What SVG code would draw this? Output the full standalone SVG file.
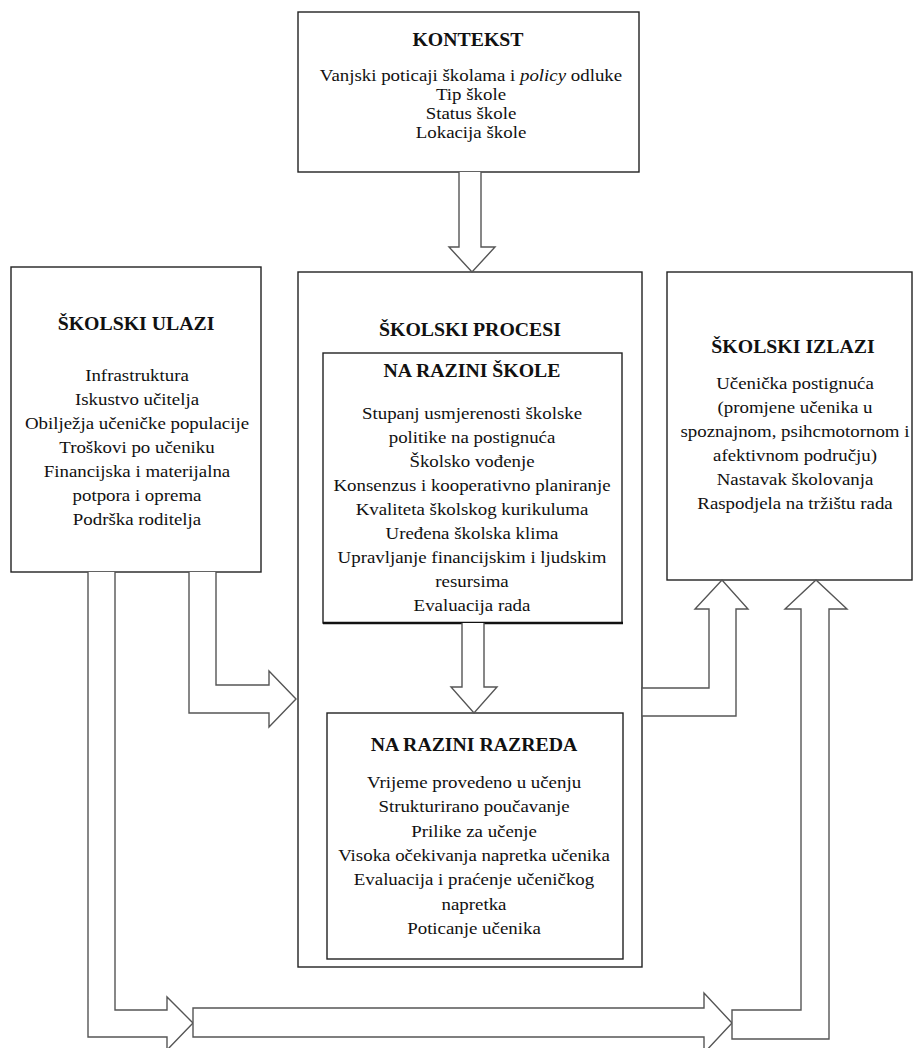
<svg xmlns="http://www.w3.org/2000/svg" width="915" height="1048" viewBox="0 0 915 1048">
<style>
.box{fill:#fff;stroke:#222;stroke-width:1.4}
.arr{fill:#fff;stroke:#555;stroke-width:1.4;stroke-linejoin:miter}
.t{font-family:'Liberation Serif','DejaVu Serif',serif;font-size:18px;font-weight:bold;text-anchor:middle;fill:#111}
.b{font-family:'Liberation Serif','DejaVu Serif',serif;font-size:16px;text-anchor:middle;fill:#111}
</style>
<rect width="915" height="1048" fill="#fff"/>
<g id="kontekst">
<rect class="box" x="298" y="12" width="341" height="160"/>
<text class="t" transform="translate(468,46) scale(1.1,1)">KONTEKST</text>
<g transform="translate(471,0) scale(1.18,1)">
<text class="b" y="81">Vanjski poticaji školama i <tspan font-style="italic">policy</tspan> odluke</text>
<text class="b" y="100">Tip škole</text>
<text class="b" y="119">Status škole</text>
<text class="b" y="138">Lokacija škole</text>
</g>
</g>
<g id="ulazi">
<rect class="box" x="11" y="267" width="250" height="305"/>
<text class="t" transform="translate(136,330) scale(1.1,1)">ŠKOLSKI ULAZI</text>
<g transform="translate(137,0) scale(1.18,1)">
<text class="b" y="381">Infrastruktura</text>
<text class="b" y="405">Iskustvo učitelja</text>
<text class="b" y="429">Obilježja učeničke populacije</text>
<text class="b" y="453">Troškovi po učeniku</text>
<text class="b" y="477">Financijska i materijalna</text>
<text class="b" y="501">potpora i oprema</text>
<text class="b" y="525">Podrška roditelja</text>
</g>
</g>
<g id="procesi">
<rect class="box" x="298" y="272" width="344" height="695"/>
<text class="t" transform="translate(470,336) scale(1.1,1)">ŠKOLSKI PROCESI</text>
</g>
<g id="razina-skole">
<rect class="box" x="323" y="353" width="299" height="270"/>
<line x1="323" y1="623" x2="623" y2="623" stroke="#111" stroke-width="2.4"/>
<text class="t" transform="translate(472,377) scale(1.1,1)">NA RAZINI ŠKOLE</text>
<g transform="translate(472,0) scale(1.18,1)">
<text class="b" y="419">Stupanj usmjerenosti školske</text>
<text class="b" y="443">politike na postignuća</text>
<text class="b" y="467">Školsko vođenje</text>
<text class="b" y="491">Konsenzus i kooperativno planiranje</text>
<text class="b" y="515">Kvaliteta školskog kurikuluma</text>
<text class="b" y="539">Uređena školska klima</text>
<text class="b" y="563">Upravljanje financijskim i ljudskim</text>
<text class="b" y="587">resursima</text>
<text class="b" y="611">Evaluacija rada</text>
</g>
</g>
<g id="razina-razreda">
<rect class="box" x="327" y="713" width="296" height="246"/>
<text class="t" transform="translate(474,751) scale(1.1,1)">NA RAZINI RAZREDA</text>
<g transform="translate(474,0) scale(1.18,1)">
<text class="b" y="788">Vrijeme provedeno u učenju</text>
<text class="b" y="812">Strukturirano poučavanje</text>
<text class="b" y="837">Prilike za učenje</text>
<text class="b" y="861">Visoka očekivanja napretka učenika</text>
<text class="b" y="885">Evaluacija i praćenje učeničkog</text>
<text class="b" y="910">napretka</text>
<text class="b" y="934">Poticanje učenika</text>
</g>
</g>
<g id="izlazi">
<rect class="box" x="667" y="272" width="245" height="308"/>
<text class="t" transform="translate(793,353) scale(1.1,1)">ŠKOLSKI IZLAZI</text>
<g transform="translate(795,0) scale(1.18,1)">
<text class="b" y="389">Učenička postignuća</text>
<text class="b" y="413">(promjene učenika u</text>
<text class="b" y="437">spoznajnom, psihcmotornom i</text>
<text class="b" y="461">afektivnom području)</text>
<text class="b" y="485">Nastavak školovanja</text>
<text class="b" y="509">Raspodjela na tržištu rada</text>
</g>
</g>
<g id="connectors">
<path class="arr" d="M459,172 V247 H449 L472,272 L495,247 H481 V172"/>
<path class="arr" d="M462,623 V687 H451 L474,713 L497,687 H484 V623"/>
<path class="arr" d="M189,572 V713 H269 V727 L296,699 L269,671 V685 H216 V572"/>
<path class="arr" d="M642,688 H709 V609 H695 L722,580 L748,609 H736 V716 H642 Z"/>
<path class="arr" d="M88,572 V1037 H167 V1050 L193,1023 L167,997 V1010 H115 V572"/>
<path class="arr" d="M193,1008 H704 V993 L732,1023 L704,1053 V1037 H193 Z"/>
<path class="arr" d="M732,1010 H801 V609 H785 L816,580 L847,609 H829 V1039 H732 Z"/>
</g>
</svg>
